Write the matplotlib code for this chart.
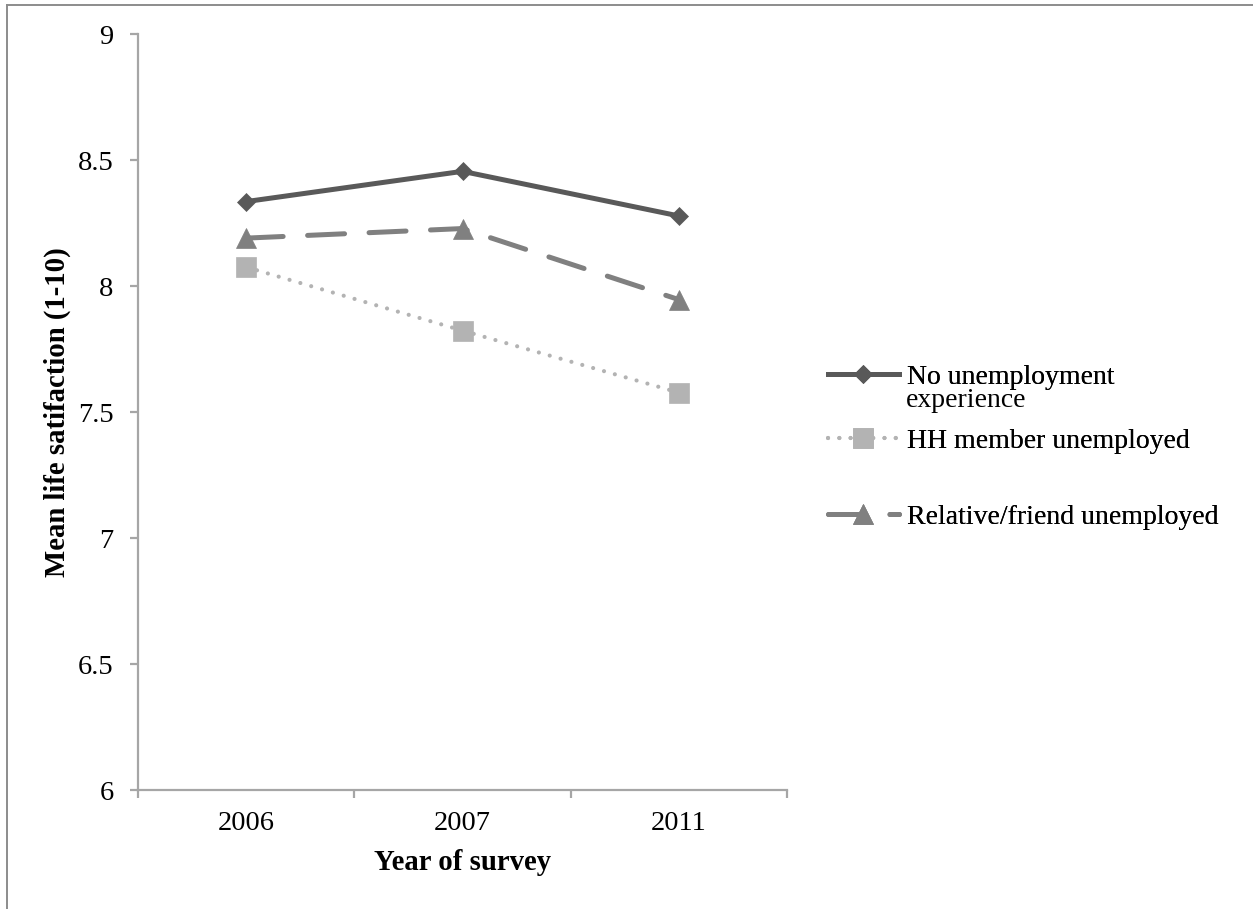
import matplotlib
matplotlib.use("Agg")
import matplotlib.pyplot as plt
from matplotlib.lines import Line2D

# Survey years and mean life satisfaction by unemployment exposure
years = ["2006", "2007", "2011"]
no_unemployment = [8.335, 8.455, 8.278]
hh_member_unemployed = [8.075, 7.823, 7.577]
relative_friend_unemployed = [8.19, 8.228, 7.946]

y_ticks = [6, 6.5, 7, 7.5, 8, 8.5, 9]
y_tick_labels = ["6", "6.5", "7", "7.5", "8", "8.5", "9"]

plt.rcParams["font.family"] = ["Liberation Serif", "DejaVu Serif"]
TICK_FS = 20.5
LABEL_FS = 20.7
LEGEND_FS = 20
plt.rcParams["font.size"] = TICK_FS

W, H = 1253, 909
fig = plt.figure(figsize=(W / 100, H / 100), dpi=100)
fig.patch.set_facecolor("white")

ax_left, ax_right, ax_top, ax_bottom = 138, 787, 34, 790
ax = fig.add_axes([ax_left / W, 1 - ax_bottom / H,
                   (ax_right - ax_left) / W, (ax_bottom - ax_top) / H])

x = list(range(len(years)))

l1, = ax.plot(x, no_unemployment, color="#595959", lw=3.6, linestyle="-",
              marker="D", ms=9, mfc="#595959", mec="#595959", mew=0.5,
              solid_joinstyle="round", zorder=4)
l2, = ax.plot(x, hh_member_unemployed, color="#b3b3b3", lw=3.0,
              linestyle=(0, (0.01, 2.7)), dash_capstyle="round",
              marker="s", ms=14, mfc="#b3b3b3", mec="#b3b3b3", mew=0.5,
              zorder=2)
l3, = ax.plot(x, relative_friend_unemployed, color="#808080", lw=3.6,
              linestyle=(0, (7.4, 4.9)), dash_capstyle="round",
              marker="^", ms=14, mfc="#808080", mec="#808080", mew=0.5,
              zorder=3)

ax.set_xlim(-0.5, len(years) - 0.5)
ax.set_ylim(6, 9)

spine_color = "#a6a6a6"
for side in ("top", "right"):
    ax.spines[side].set_visible(False)
for side in ("left", "bottom"):
    ax.spines[side].set_color(spine_color)
    ax.spines[side].set_linewidth(1.6)

ax.set_yticks(y_ticks)
ax.set_yticklabels(y_tick_labels)
ax.tick_params(axis="y", direction="out", length=5.5, width=1.6,
               color=spine_color, pad=12, labelsize=TICK_FS)

# category boundaries carry the tick marks, labels sit at the centres
ax.set_xticks([i - 0.5 for i in range(len(years) + 1)])
ax.set_xticklabels([])
ax.set_xticks(x, minor=True)
ax.set_xticklabels(years, minor=True)
ax.tick_params(axis="x", which="major", direction="out", length=6,
               width=1.6, color=spine_color)
ax.tick_params(axis="x", which="minor", length=0, pad=15, labelsize=TICK_FS)

ax.set_xlabel("Year of survey", fontweight="bold", fontsize=LABEL_FS,
              va="center")
ax.xaxis.set_label_coords(0.5, (ax_bottom - 863) / (ax_bottom - ax_top))
ax.set_ylabel("Mean life satifaction (1-10)", fontweight="bold",
              fontsize=LABEL_FS, va="center")
ax.yaxis.set_label_coords((57 - ax_left) / (ax_right - ax_left), 0.5)

# legend entries placed one by one, as in the original layout
leg_x = 828 / W
entries = [(l1, "No unemployment", 377),
           (l2, "HH member unemployed", 441),
           (l3, "Relative/friend unemployed", 517)]
for handle, label, ypix in entries:
    leg = fig.legend([handle], [label], loc="center left",
                     bbox_to_anchor=(leg_x, 1 - ypix / H),
                     bbox_transform=fig.transFigure,
                     frameon=False, borderpad=0, borderaxespad=0,
                     handlelength=2.55, handletextpad=0.28,
                     fontsize=LEGEND_FS, numpoints=1)
    fig.add_artist(leg)
fig.text(906 / W, 1 - 400 / H, "experience", fontsize=LEGEND_FS,
         ha="left", va="center")

# outer chart frame (top and left edges)
frame_color = "#8c8c8c"
fig.add_artist(Line2D([7 / W, 1.0], [1 - 5 / H, 1 - 5 / H],
                      transform=fig.transFigure, color=frame_color, lw=1.4))
fig.add_artist(Line2D([7 / W, 7 / W], [0.0, 1 - 5 / H],
                      transform=fig.transFigure, color=frame_color, lw=1.4))

fig.savefig("out.png", dpi=100, facecolor="white")
